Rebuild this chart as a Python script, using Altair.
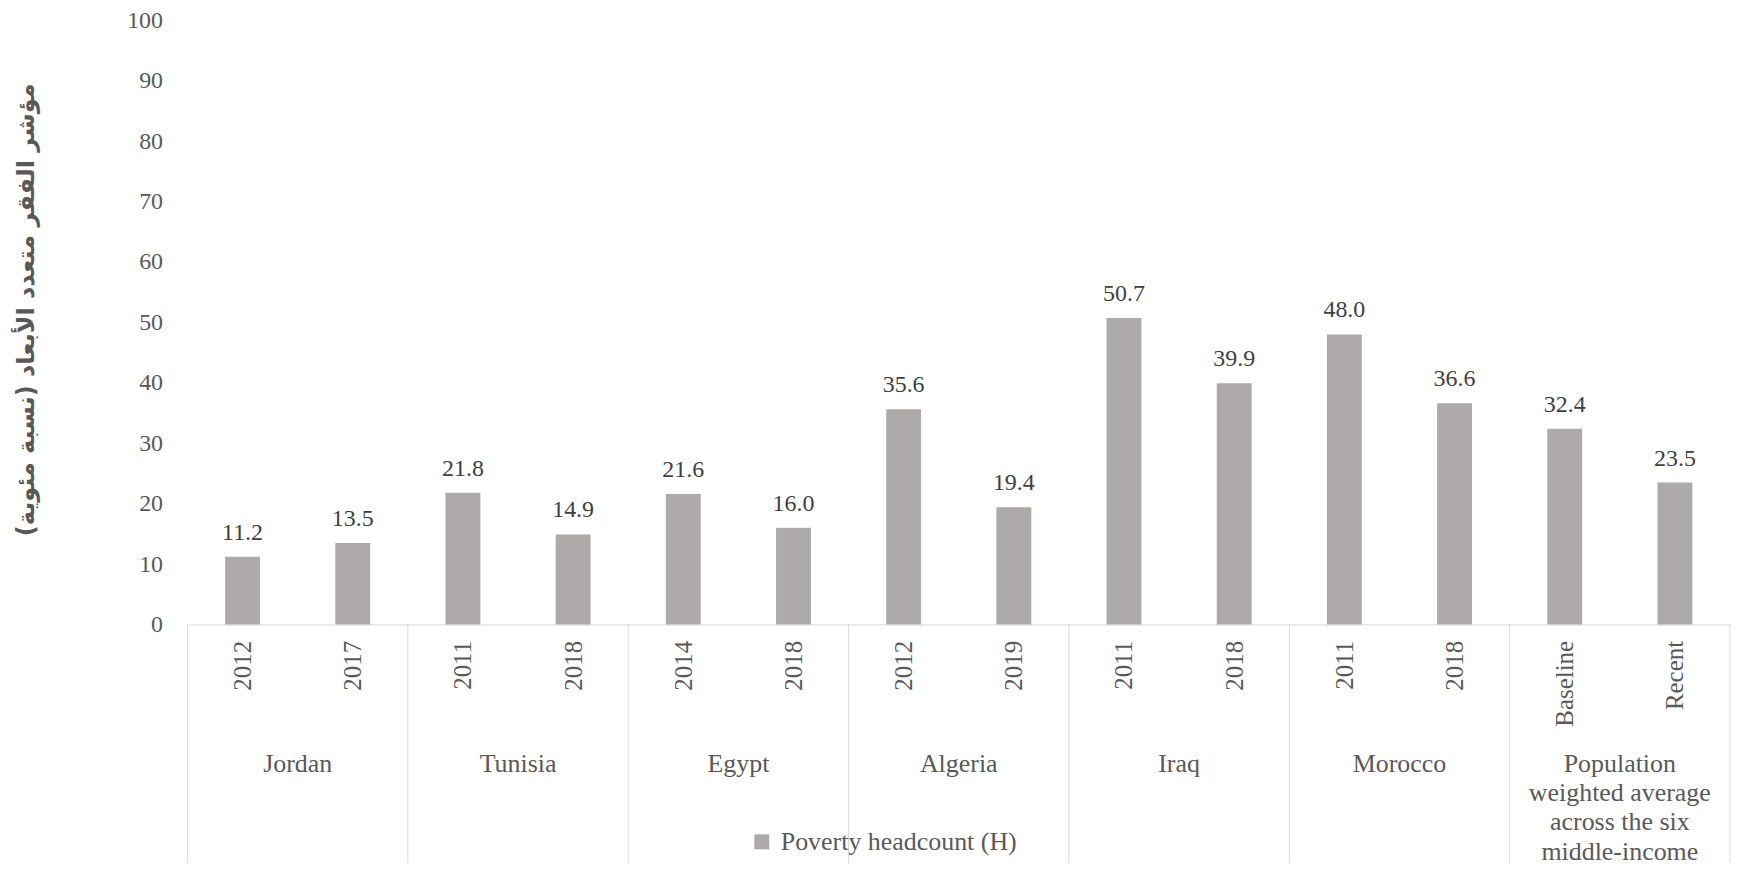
import altair as alt
import pandas as pd

groups = ["Jordan", "Tunisia", "Egypt", "Algeria", "Iraq", "Morocco",
          "Population\nweighted average\nacross the six\nmiddle-income"]
periods = ["2012", "2017", "2011", "2018", "2014", "2018", "2012", "2019",
           "2011", "2018", "2011", "2018", "Baseline", "Recent"]
values = [11.2, 13.5, 21.8, 14.9, 21.6, 16.0, 35.6, 19.4,
          50.7, 39.9, 48.0, 36.6, 32.4, 23.5]
series_name = "Poverty headcount (H)"
y_title = "مؤشر الفقر متعدد الأبعاد (نسبة مئوية)"

bars = pd.DataFrame({
    "idx": list(range(len(values))),
    "period": periods,
    "value": values,
    "series": [series_name] * len(values),
})
grp = pd.DataFrame({
    "center": [2 * i + 0.5 for i in range(len(groups))],
    "label": groups,
})
bounds = pd.DataFrame({"b": [2 * i - 0.5 for i in range(len(groups) + 1)]})

SERIF = "Liberation Serif"
AXIS_GREY = "#595959"
LINE_GREY = "#d9d9d9"
BAR = "#AEAAAA"

label_lookup = "[" + ",".join("'" + p + "'" for p in periods) + "][datum.value]"

xscale = alt.Scale(domain=[-0.5, len(values) - 0.5], nice=False, zero=False,
                   padding=0)

x_enc = alt.X(
    "idx:Q", scale=xscale,
    axis=alt.Axis(
        values=list(range(len(values))), labelExpr=label_lookup,
        labelAngle=270, labelPadding=16, ticks=False, grid=False,
        domainColor=LINE_GREY, domainWidth=1, labelFlush=False,
        labelOverlap=False, labelFont=SERIF, labelFontSize=25,
        labelColor=AXIS_GREY, title=None,
    ),
)

base = alt.Chart(bars)

bar_layer = base.mark_bar(size=35).encode(
    x=x_enc,
    y=alt.Y(
        "value:Q", scale=alt.Scale(domain=[0, 100], nice=False, padding=0),
        axis=alt.Axis(
            values=list(range(0, 101, 10)), grid=False, domain=False,
            ticks=False, labelPadding=25, labelFont=SERIF,
            labelFontSize=24, labelColor=AXIS_GREY,
            title=y_title, titleFont="DejaVu Sans", titleFontSize=24,
            titleFontWeight="bold", titleColor=AXIS_GREY,
            titleX=-161, titleY=290, titleAngle=270, titleBaseline="middle",
            titleAlign="center",
        ),
    ),
    color=alt.Color(
        "series:N", scale=alt.Scale(range=[BAR]),
        legend=alt.Legend(
            title=None, orient="none", legendX=563, legendY=811,
            symbolType="square", symbolSize=225, symbolStrokeWidth=0,
            labelFont=SERIF, labelFontSize=26, labelColor=AXIS_GREY,
            padding=0, labelOffset=6, labelLimit=0,
        ),
    ),
)

text_layer = base.mark_text(
    dy=-17, baseline="alphabetic", font=SERIF, fontSize=24, color="#404040"
).encode(
    x=alt.X("idx:Q", scale=xscale),
    y=alt.Y("value:Q"),
    text=alt.Text("value:Q", format=".1f"),
)

rule_layer = alt.Chart(bounds).mark_rule(color=LINE_GREY, strokeWidth=1).encode(
    x=alt.X("b:Q", scale=xscale),
    y=alt.value(606),
    y2=alt.value(900),
)

group_layer = alt.Chart(grp).mark_text(
    baseline="alphabetic", font=SERIF, fontSize=26, color=AXIS_GREY,
    lineBreak="\n", lineHeight=29.3, align="center",
).encode(
    x=alt.X("center:Q", scale=xscale),
    y=alt.value(754),
    text="label:N",
)

chart = alt.layer(rule_layer, bar_layer, text_layer, group_layer).properties(
    width=1547, height=606,
    autosize=alt.AutoSizeParams(type="none"),
    padding={"left": 180, "top": 11, "right": 3, "bottom": 238},
).configure_view(stroke=None)

chart.save("out.html", embed_options={"renderer": "svg", "actions": False})
